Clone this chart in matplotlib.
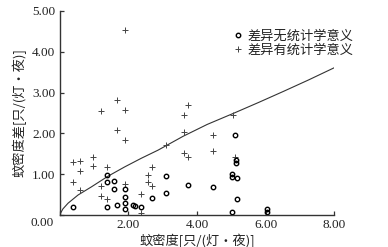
import matplotlib
matplotlib.use('Agg')
import matplotlib.pyplot as plt
from matplotlib.lines import Line2D

# points with no significant difference (open circles)
x_ns = [0.39, 1.39, 1.39, 1.58, 1.58, 1.39, 1.66, 1.92, 1.92, 1.92, 1.92, 2.13, 2.20, 2.38,
        2.68, 3.10, 3.10, 3.73, 4.47, 5.11, 5.14, 5.14, 5.02, 5.02, 5.16, 5.16, 5.03, 6.05, 6.05]
y_ns = [0.20, 0.99, 0.80, 0.83, 0.63, 0.19, 0.24, 0.64, 0.45, 0.30, 0.14, 0.25, 0.22, 0.19,
        0.42, 0.95, 0.55, 0.74, 0.68, 1.97, 1.36, 1.28, 1.00, 0.94, 0.90, 0.38, 0.08, 0.15, 0.07]

# points with significant difference (plus)
x_s = [1.90, 1.66, 1.20, 1.90, 1.66, 1.90, 0.40, 0.59, 0.59, 0.98, 0.98, 1.39, 0.40, 0.59,
       1.20, 1.20, 1.39, 1.92, 2.38, 2.38, 2.68, 2.58, 2.58, 2.68, 3.10, 3.62, 3.73, 3.62,
       3.62, 3.73, 4.47, 4.47, 5.04, 5.11]
y_s = [4.54, 2.81, 2.55, 2.58, 2.08, 1.84, 1.29, 1.32, 1.09, 1.43, 1.21, 1.17, 0.81, 0.62,
       0.71, 0.47, 0.38, 0.77, 0.52, 0.04, 1.17, 0.98, 0.81, 0.71, 1.71, 2.44, 2.70, 2.03,
       1.51, 1.43, 1.96, 1.58, 2.44, 1.43]

# critical curve
x_curve = [0, 0.10, 0.25, 0.54, 0.93, 1.41, 1.90, 2.38, 2.87, 3.60, 4.30, 5.06, 5.80, 6.52, 7.25, 8.0]
y_curve = [0, 0.15, 0.29, 0.49, 0.69, 0.95, 1.18, 1.39, 1.59, 1.93, 2.22, 2.49, 2.76, 3.03, 3.31, 3.61]

xticks = [0, 2, 4, 6, 8]
yticks = [0, 1, 2, 3, 4, 5]
legend_labels = ['差异无统计学意义', '差异有统计学意义']
xlabel = '蚊密度[只/(灯·夜)]'
ylabel = '蚊密度差[只/(灯·夜)]'

serif = ['Liberation Serif', 'Noto Sans CJK SC']
cjk = ['Noto Sans CJK SC', 'Liberation Serif']
col = '#222222'

fig = plt.figure(figsize=(3.88, 2.47), dpi=100)
ax = fig.add_axes([59.5 / 388, 1 - 215 / 247, (334.3 - 59.5) / 388, (215 - 11) / 247])

ax.plot(x_curve, y_curve, color='#333333', lw=0.8)
ax.plot(x_s, y_s, linestyle='none', marker='+', ms=4.5, mew=0.7, color='#444444')
ax.plot(x_ns, y_ns, linestyle='none', marker='o', ms=3.2, mew=1.0,
        markerfacecolor='none', markeredgecolor='black')

ax.set_xlim(0, 8)
ax.set_ylim(0, 5)
ax.set_xticks(xticks)
ax.set_yticks(yticks)
ax.set_xticklabels([''] + [f'{v:.2f}' for v in xticks[1:]], family=serif, fontsize=9.5, color=col)
ax.set_yticklabels([''] + [f'{v:.2f}' for v in yticks[1:]], family=serif, fontsize=9.5, color=col)
ax.annotate('0.00', xy=(0, 0), xycoords='data', xytext=(-4.5, -5.8), textcoords='offset points',
            ha='right', va='center', family=serif, fontsize=9.5, color=col)
ax.tick_params(direction='in', length=3, width=0.9, color='#333333', pad=3)

for s in ['top', 'right']:
    ax.spines[s].set_visible(False)
for s in ['left', 'bottom']:
    ax.spines[s].set_linewidth(1.0)
    ax.spines[s].set_color('#333333')

ax.set_xlabel(xlabel, family=cjk, fontsize=9.5, color=col, labelpad=2)
ax.set_ylabel(ylabel, family=cjk, fontsize=9.5, color=col, labelpad=4)

handles = [
    Line2D([], [], linestyle='none', marker='o', ms=3.2, mew=1.0,
           markerfacecolor='none', markeredgecolor='black'),
    Line2D([], [], linestyle='none', marker='+', ms=4.5, mew=0.7, color='#444444'),
]
ax.legend(handles, legend_labels, loc='upper left', bbox_to_anchor=(234 / 388, 1 - 30 / 247),
          bbox_transform=fig.transFigure, frameon=False, prop={'family': cjk, 'size': 9.5},
          handlelength=0.6, handletextpad=0.4, labelspacing=0.05, borderpad=0, borderaxespad=0,
          labelcolor=col)

fig.savefig('out.png', dpi=100)
